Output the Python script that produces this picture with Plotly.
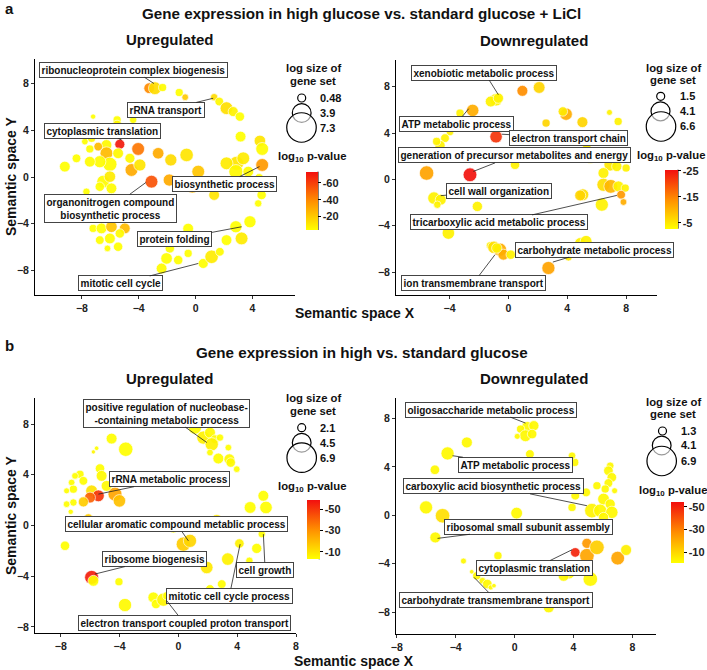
import plotly.graph_objects as go

W, H = 707, 670
FONT = "Liberation Sans, Arial, Helvetica, sans-serif"

# ------------------------------------------------------------------ data
# Panel a, upregulated
A_UP_X = [-3.26, -2.86, -2.32, -1.15, -0.73, 1.31, 1.67, 2.18, 2.65, 3.12,
          3.17, 4.53, 4.69, 4.69, 2.89, 2.18, 3.36, 2.84, 3.71, 4.48,
          4.53, 4.65, 4.41, 1.24, 0.19, -0.23, -0.63, 1.31, -1.85, -1.74,
          -2.63, -4.04, -5.33, -6.27, -6.85, -7.32, -7.21, -5.52, -5.52, -4.39,
          -7.79, -7.44, -6.27, -5.45, -4.62, -4.51, -3.92, -6.03, -6.74, -7.44,
          -8.38, -9.2, -3.1, -6.5, -6.03, -5.92, -6.74, -7.68, -7.79, -7.21,
          -6.62, -5.92, -4.98, -6.03, -5.33, -6.74, -6.2, -5.45, -1.57, -1.81,
          -2.04, -1.22, -0.52, 0.54, 1.13, 1.71, 2.18, 3.24, 2.84, 3.83,
          -2.39, -0.52]
A_UP_Y = [7.6, 7.6, 7.66, 7.23, 6.83, 6.83, 6.46, 5.89, 5.6, 5.17,
          3.46, 3.09, 2.4, 1.03, 1.17, 1.17, 1.6, 0.46, 0.46, -0.11,
          -0.83, -1.54, -2.26, -0.69, 0.46, -0.83, 1.89, -1.54, -0.26, 1.46,
          2.03, 2.4, 2.8, 2.74, 2.6, 3.31, 5.17, 4.89, 4.46, 4.89,
          3.03, 2.4, 2.03, 2.03, 1.6, 0.6, 1.03, 1.09, 1.31, 1.31,
          1.6, 0.89, -0.4, -0.4, 0.03, -0.97, -0.83, -1.26, -2.4, -4.4,
          -4.4, -4.26, -4.4, -5.26, -4.83, -5.4, -6.11, -5.97, -4.97, -6.11,
          -6.97, -7.11, -6.54, -7.4, -6.83, -6.4, -5.4, -5.26, -4.26, -3.83,
          -7.83, -4.42]
A_UP_SIZE = [4.25, 5.5, 2.6, 2.6, 1.75, 2.2, 3.0, 5.5, 3.8, 3.4,
             4.25, 4.7, 5.5, 5.5, 6.3, 5.5, 5.5, 6.3, 4.25, 3.4,
             4.25, 3.4, 2.2, 5.1, 5.5, 5.5, 5.9, 4.25, 5.1, 5.1,
             4.7, 5.5, 3.8, 4.25, 3.0, 2.6, 0.9, 2.6, 3.4, 2.2,
             1.75, 2.6, 5.5, 4.25, 3.8, 5.5, 5.1, 6.3, 5.1, 4.25,
             3.0, 4.25, 5.5, 5.5, 4.7, 4.25, 3.4, 2.2, 1.75, 2.6,
             4.25, 4.7, 4.25, 4.25, 3.4, 3.0, 1.75, 3.4, 2.6, 3.4,
             4.7, 3.4, 2.6, 3.8, 5.9, 3.0, 4.25, 5.5, 5.1, 5.1,
             4.25, 4.25]
A_UP_LOGP = [-40, -15, -5, -4, -20, -15, -6, -14, -8, -4,
             -4, -12, -5, -35, -12, -10, -10, -6, -5, -4,
             -4, -4, -4, -10, -22, -25, -12, -12, -30, -15,
             -30, -45, -70, -6, -25, -5, -4, -4, -6, -4,
             -4, -4, -25, -6, -6, -30, -12, -5, -5, -5,
             -4, -4, -55, -5, -10, -5, -4, -4, -4, -4,
             -4, -22, -25, -4, -5, -4, -4, -4, -4, -4,
             -4, -4, -4, -4, -10, -5, -4, -10, -4, -4,
             -5, -4]
A_UP_LABELS = ["ribonucleoprotein complex biogenesis", "rRNA transport",
               "cytoplasmic translation",
               "organonitrogen compound<br>biosynthetic process",
               "biosynthetic process", "protein folding", "mitotic cell cycle"]
A_UP_LABEL_X = [-4.39, -2.09, -6.55, -5.99, 2.07, -1.46, -5.28]
A_UP_LABEL_Y = [9.17, 5.74, 3.94, -2.69, -0.6, -5.34, -9.11]
A_UP_POINT_X = [-2.93, 1.24, -5.21, -3.48, 4.5, 3.24, 0.19]
A_UP_POINT_Y = [8.0, 6.74, 3.17, -0.46, 0.89, -4.26, -7.4]
A_UP_LEGEND = [0.48, 3.9, 7.3]
A_UP_CB_TICKS = [-60, -40, -20]
A_UP_CB_RANGE = [-73.4, -4.2]

# Panel a, downregulated
A_DN_X = [-0.84, -1.2, -0.68, 0.95, 2.09, -2.43, -3.29, 3.92, 3.7, 2.56,
          5.03, 6.87, 7.46, -0.84, -3.97, -4.31, -4.65, -4.88, 3.06, 5.33,
          5.56, -5.56, -2.61, 0.45, 6.92, 7.37, 8.0, 6.46, 6.96, 6.46,
          6.96, 7.48, 7.94, 7.66, 7.82, 5.06, 4.88, 6.35, 0.98, -5.06,
          -4.6, -4.83, -2.11, -4.08, -1.25, -0.98, -0.57, -0.34, 0.16, -0.79,
          4.88, 5.28, 4.08, 2.72]
A_DN_Y = [6.87, 6.72, 7.01, 7.64, 7.93, 5.95, 5.72, 5.63, 5.86, 4.86,
          4.94, 5.78, 5.0, 3.68, 4.08, 3.56, 2.93, 3.28, 3.71, 2.7,
          1.84, 0.55, 0.4, 1.26, 1.26, 1.12, 0.98, 0.55, 1.84, -0.46,
          -0.6, -0.6, -0.75, -1.32, -1.95, -1.32, -1.38, -2.18, -1.18, -1.61,
          -1.75, -2.18, -2.33, -4.63, -5.69, -5.86, -6.06, -6.49, -6.49, -5.92,
          -5.49, -5.34, -6.72, -7.64]
A_DN_SIZE = [5.1, 4.4, 4.1, 4.4, 4.8, 5.1, 3.1, 5.1, 3.7, 3.1,
             4.4, 2.1, 3.1, 5.1, 2.8, 3.4, 4.1, 3.1, 2.8, 3.4,
             4.4, 6.0, 5.7, 3.7, 5.1, 4.1, 3.1, 4.4, 3.1, 5.4,
             5.7, 4.4, 3.1, 3.4, 2.5, 4.8, 4.4, 5.4, 4.4, 5.1,
             4.4, 2.8, 4.1, 5.1, 2.8, 5.1, 5.4, 4.4, 3.7, 4.1,
             4.4, 4.8, 2.8, 5.4]
A_DN_LOGP = [-4, -4, -4, -14, -7, -11, -4, -11, -5, -7,
             -7, -4, -4, -22, -4, -4, -4, -4, -4, -4,
             -4, -12, -25, -4, -5, -4, -4, -4, -4, -6,
             -10, -4, -4, -13, -11, -6, -7, -4, -4, -4,
             -4, -4, -4, -4, -4, -6, -11, -11, -4, -4,
             -4, -4, -5, -12]
A_DN_LABELS = ["xenobiotic metabolic process", "ATP metabolic process",
               "electron transport chain",
               "generation of precursor metabolites and energy",
               "cell wall organization", "tricarboxylic acid metabolic process",
               "carbohydrate metabolic process", "ion transmembrane transport"]
A_DN_LABEL_X = [-1.63, -3.56, 4.08, 0.39, -0.63, -0.61, 5.83, -2.38]
A_DN_LABEL_Y = [9.22, 4.77, 3.56, 2.07, -0.98, -3.71, -6.06, -8.94]
A_DN_POINT_X = [-0.68, -2.7, -0.45, -2.38, -4.6, 7.37, 3.02, -0.91]
A_DN_POINT_Y = [7.3, 6.1, 3.9, 0.69, -1.4, -1.38, -7.13, -6.49]
A_DN_LEGEND = [1.5, 4.1, 6.6]
A_DN_CB_TICKS = [-25, -15, -5]
A_DN_CB_RANGE = [-25.4, -2.8]

# Panel b, upregulated
B_UP_X = [0.57, 1.13, 1.7, 2.15, 2.49, 2.27, 2.83, 3.4, 2.15, 2.72,
          3.47, 3.56, 3.97, -4.54, -3.58, -5.56, -5.78, -5.33, -5.22, -6.69,
          -7.03, -6.46, -7.26, -7.14, -7.6, -5.9, -5.44, -6.01, -4.88, -4.31,
          -4.01, -6.46, -7.14, -7.6, -7.32, -6.12, -7.71, -5.9, -5.78, -4.04,
          -3.63, -1.7, -1.52, -1.02, -0.79, -0.34, 0.34, 0.79, 1.81, 2.61,
          1.93, 3.36, 4.15, 2.95, 2.15, 4.88, 5.78, 5.96, 5.33, 5.67,
          4.83, 4.76, 0.68]
B_UP_Y = [8.11, 7.72, 6.93, 7.32, 6.8, 6.4, 6.93, 6.14, 5.75, 5.28,
          5.22, 4.96, 4.44, 6.85, 6.01, 6.09, 5.8, 4.49, 3.91, 4.04,
          3.91, 3.52, 3.39, 2.86, 2.73, 2.73, 2.34, 2.2, 3.12, 2.47,
          1.94, 1.86, 1.81, 1.68, 1.08, 0.55, -1.6, -4.09, -4.36, -4.44,
          -6.27, -5.67, -6.19, -5.85, -5.54, -0.16, -1.47, -1.21, 0.1, 0.37,
          -3.31, -2.65, -1.42, -4.62, -5.01, 1.42, 2.34, 1.42, -1.81, -0.68,
          -2.78, 0.24, -0.03]
B_UP_SIZE = [4.8, 5.8, 5.8, 4.8, 3.9, 5.8, 3.3, 3.0, 3.0, 4.8,
             4.8, 4.2, 3.0, 4.8, 6.3, 2.1, 1.95, 4.2, 4.8, 3.6,
             3.0, 3.9, 3.0, 3.6, 2.7, 5.2, 5.2, 4.8, 4.8, 6.1,
             5.5, 4.5, 3.3, 3.0, 2.4, 4.2, 4.2, 6.1, 4.8, 3.6,
             5.8, 4.8, 4.2, 5.8, 3.6, 4.8, 6.3, 5.8, 5.8, 5.5,
             5.5, 5.5, 4.2, 3.9, 3.9, 5.2, 4.8, 5.5, 4.5, 3.3,
             3.3, 3.9, 3.3]
B_UP_LOGP = [-3, -3, -6, -4, -4, -6, -3, -3, -3, -3,
             -4, -4, -3, -3, -3, -3, -5, -3, -4, -3,
             -3, -3, -3, -3, -3, -10, -50, -40, -4, -25,
             -18, -15, -3, -3, -3, -15, -3, -55, -3, -3,
             -4, -3, -3, -5, -3, -3, -15, -13, -4, -8,
             -8, -6, -6, -3, -3, -3, -3, -3, -3, -3,
             -3, -3, -3]
B_UP_LABELS = ["positive regulation of nucleobase-<br>-containing metabolic process",
               "rRNA metabolic process",
               "cellular aromatic compound metablic process",
               "ribosome biogenesis", "cell growth", "mitotic cell cycle process",
               "electron transport coupled proton transport"]
B_UP_LABEL_X = [-0.84, -0.57, -0.11, -1.59, 5.9, 3.47, 0.39]
B_UP_LABEL_Y = [8.85, 3.65, 0.1, -2.65, -3.49, -5.54, -7.69]
B_UP_POINT_X = [1.93, -5.44, 0.68, -5.67, 5.78, 4.2, -0.79]
B_UP_POINT_Y = [6.54, 2.47, -1.21, -3.83, -0.68, -1.47, -5.93]
B_UP_LEGEND = [2.1, 4.5, 6.9]
B_UP_CB_TICKS = [-50, -30, -10]
B_UP_CB_RANGE = [-58.5, -2.8]

# Panel b, downregulated
B_DN_X = [0.86, 1.31, 0.41, 0.74, 1.19, 0.18, -3.24, -4.55, -5.41, -3.04,
          1.04, 4.08, 3.9, 6.49, 6.37, 6.6, 6.37, 6.15, 6.79, 4.86,
          4.12, 6.04, 6.49, 5.25, 5.81, 6.6, 6.04, 3.9, 0.14, -6.01,
          -4.89, -5.38, 4.12, 4.91, 4.91, 5.59, 7.0, 7.57, 3.67, 3.33,
          5.14, -1.13, -3.47, -2.57, -2.18, -1.85, -1.62, -2.91, 2.32, -1.4,
          5.59]
B_DN_Y = [7.27, 7.41, 7.13, 6.58, 6.72, 6.53, 6.03, 5.12, 3.77, 2.78,
          5.07, 4.38, 4.93, 4.1, 3.69, 3.14, 2.67, 2.18, 2.04, 1.9,
          1.63, 1.35, 0.94, 0.39, 0.39, 0.25, -0.17, 0.66, 0.19, 0.66,
          -0.03, -1.82, -3.06, -2.31, -3.33, -2.64, -3.53, -2.86, -4.71, -4.99,
          -5.26, -3.33, -3.77, -4.99, -5.4, -5.67, -5.95, -4.66, -7.6, -5.81,
          2.45]
B_DN_SIZE = [4.9, 4.1, 3.1, 4.9, 3.8, 2.0, 4.5, 5.6, 3.8, 3.1,
             3.4, 3.1, 2.8, 2.8, 3.8, 3.8, 3.4, 3.1, 2.0, 3.4,
             3.4, 4.9, 4.1, 6.3, 5.6, 5.2, 4.1, 3.1, 4.9, 5.6,
             6.3, 4.5, 3.8, 4.1, 6.3, 6.3, 5.9, 4.5, 5.6, 4.5,
             6.3, 3.1, 2.0, 3.1, 2.4, 3.8, 1.6, 1.3, 4.5, 1.3,
             3.1]
B_DN_LOGP = [-2, -2, -2, -2, -2, -2, -2, -2, -2, -2,
             -2, -2, -2, -2, -2, -2, -2, -2, -2, -2,
             -2, -2, -2, -3, -2, -2, -2, -2, -2, -2,
             -8, -2, -50, -25, -22, -12, -22, -4, -2, -2,
             -2, -2, -2, -2, -2, -2, -2, -2, -2, -2,
             -2]
B_DN_LABELS = ["oligosaccharide metabolic process", "ATP metabolic process",
               "carboxylic acid biosynthetic process",
               "ribosomal small subunit assembly", "cytoplasmic translation",
               "carbohydrate transmembrane transport"]
B_DN_LABEL_X = [-1.58, 0.07, -1.4, 0.97, 1.37, -1.28]
B_DN_LABEL_Y = [8.73, 4.19, 2.4, -0.94, -4.35, -6.97]
B_DN_POINT_X = [0.74, -4.21, 4.91, -5.23, 3.9, -2.75]
B_DN_POINT_Y = [7.63, 4.93, 0.8, -1.9, -2.84, -5.12]
B_DN_LEGEND = [1.3, 4.1, 6.9]
B_DN_CB_TICKS = [-50, -30, -10]
B_DN_CB_RANGE = [-54.4, -0.5]

# ------------------------------------------------------------------ layout config (pixels)
PANELS = [
    dict(x=A_UP_X, y=A_UP_Y, s=A_UP_SIZE, p=A_UP_LOGP,
         lab=A_UP_LABELS, lx=A_UP_LABEL_X, ly=A_UP_LABEL_Y, qx=A_UP_POINT_X, qy=A_UP_POINT_Y,
         leg=A_UP_LEGEND, cbt=A_UP_CB_TICKS, cbr=A_UP_CB_RANGE,
         box=(35, 295, 59, 295), xr=(-11.3, 7.0), yr=(-10.1, 10.1),
         xt=[-8, -4, 0, 4], yt=[-8, -4, 0, 4, 8],
         cb=(306, 171.7, 12, 58.3), cbtitle=(312, 157), legtitle=(313, 68),
         legc=[(301.7, 98), (301.7, 113), (301.5, 127.5)], legx=318),
    dict(x=A_DN_X, y=A_DN_Y, s=A_DN_SIZE, p=A_DN_LOGP,
         lab=A_DN_LABELS, lx=A_DN_LABEL_X, ly=A_DN_LABEL_Y, qx=A_DN_POINT_X, qy=A_DN_POINT_Y,
         leg=A_DN_LEGEND, cbt=A_DN_CB_TICKS, cbr=A_DN_CB_RANGE,
         box=(396, 657, 60, 295), xr=(-7.64, 10.1), yr=(-9.97, 10.3),
         xt=[-4, 0, 4, 8], yt=[-8, -4, 0, 4, 8],
         cb=(665, 169.7, 13, 59), cbtitle=(671, 156), legtitle=(673, 67.5),
         legc=[(660.7, 96.3), (660.5, 111.3), (661, 126.5)], legx=678),
    dict(x=B_UP_X, y=B_UP_Y, s=B_UP_SIZE, p=B_UP_LOGP,
         lab=B_UP_LABELS, lx=B_UP_LABEL_X, ly=B_UP_LABEL_Y, qx=B_UP_POINT_X, qy=B_UP_POINT_Y,
         leg=B_UP_LEGEND, cbt=B_UP_CB_TICKS, cbr=B_UP_CB_RANGE,
         box=(35, 296, 398, 633.3), xr=(-9.75, 8.0), yr=(-8.5, 10.05),
         xt=[-8, -4, 0, 4, 8], yt=[-8, -4, 0, 4, 8],
         cb=(306.7, 500.3, 12.5, 59), cbtitle=(312, 487), legtitle=(313, 398.5),
         legc=[(301.7, 427.7), (301.7, 442.7), (301.7, 457.7)], legx=318),
    dict(x=B_DN_X, y=B_DN_Y, s=B_DN_SIZE, p=B_DN_LOGP,
         lab=B_DN_LABELS, lx=B_DN_LABEL_X, ly=B_DN_LABEL_Y, qx=B_DN_POINT_X, qy=B_DN_POINT_Y,
         leg=B_DN_LEGEND, cbt=B_DN_CB_TICKS, cbr=B_DN_CB_RANGE,
         box=(396, 656, 398, 634), xr=(-8.05, 9.6), yr=(-9.8, 9.7),
         xt=[-8, -4, 0, 4, 8], yt=[-8, -4, 0, 4, 8],
         cb=(670.7, 502, 12.5, 60.7), cbtitle=(673, 491), legtitle=(673, 401.5),
         legc=[(662.5, 431), (661.7, 445.5), (661.7, 461)], legx=679),
]

for P in PANELS:
    n = len(P["x"])
    if not (len(P["y"]) == len(P["s"]) == len(P["p"]) == n):
        raise ValueError("length mismatch %d %d %d %d" % (n, len(P["y"]), len(P["s"]), len(P["p"])))

COLORSCALE = [[0, "#FFFF00"], [0.5, "#FF8E00"], [1, "#F20F0F"]]
D_MIN, D_MAX = 4.6, 15.8      # plotted bubble diameters (px) at legend min / max
LEG_MIN, LEG_MAX = 8.0, 29.5  # legend key diameters (px)


def px2fx(p):
    return p / W


def px2fy(p):
    return 1 - p / H


fig = go.Figure()
annotations = []
shapes = []
layout_axes = {}

for i, P in enumerate(PANELS, start=1):
    xa = "x" if i == 1 else "x%d" % i
    ya = "y" if i == 1 else "y%d" % i
    xkey = "xaxis" if i == 1 else "xaxis%d" % i
    ykey = "yaxis" if i == 1 else "yaxis%d" % i
    smin, smax = min(P["leg"]), max(P["leg"])

    def frac(s, smin=smin, smax=smax):
        return (s - smin) / (smax - smin)

    cbx, cby, cbw, cbh = P["cb"]
    lo, hi = -P["cbr"][1], -P["cbr"][0]
    fig.add_trace(go.Scatter(
        x=P["x"], y=P["y"], xaxis=xa, yaxis=ya, mode="markers", hoverinfo="skip",
        showlegend=False,
        marker=dict(
            size=[D_MIN + frac(s) * (D_MAX - D_MIN) for s in P["s"]], sizemode="diameter",
            color=[-v for v in P["p"]], cmin=lo, cmax=hi, colorscale=COLORSCALE,
            opacity=0.92, line=dict(color="white", width=0.7),
            showscale=True,
            colorbar=dict(
                x=px2fx(cbx), xanchor="left", y=px2fy(cby), yanchor="top",
                len=cbh, lenmode="pixels", thickness=cbw, thicknessmode="pixels",
                xpad=0, ypad=0, outlinewidth=0,
                ticks="outside", ticklen=3, tickwidth=1, tickcolor="black",
                tickvals=[-t for t in P["cbt"]],
                ticktext=["-%d" % abs(t) for t in P["cbt"]],
                tickfont=dict(family=FONT, size=11, color="#222", weight="bold"),
            ),
        ),
    ))
    # right edge line of the colour bar
    shapes.append(dict(type="line", xref="paper", yref="paper",
                       x0=px2fx(cbx + cbw), x1=px2fx(cbx + cbw),
                       y0=px2fy(cby), y1=px2fy(cby + cbh),
                       line=dict(color="black", width=1)))

    x0, x1, y0, y1 = P["box"]
    axis_common = dict(showgrid=False, zeroline=False, showline=True, linecolor="black",
                       linewidth=1, ticks="outside", ticklen=3, tickwidth=1,
                       tickcolor="#333", mirror=False,
                       tickfont=dict(family=FONT, size=10.5, color="#222", weight="bold"))
    layout_axes[xkey] = dict(axis_common, domain=[px2fx(x0), px2fx(x1)], range=list(P["xr"]),
                             tickvals=P["xt"], anchor=ya)
    layout_axes[ykey] = dict(axis_common, domain=[px2fy(y1), px2fy(y0)], range=list(P["yr"]),
                             tickvals=P["yt"], anchor=xa)

    # labelled terms
    for t, lx, ly, qx, qy in zip(P["lab"], P["lx"], P["ly"], P["qx"], P["qy"]):
        annotations.append(dict(
            xref=xa, yref=ya, axref=xa, ayref=ya, x=qx, y=qy, ax=lx, ay=ly,
            text="<b>%s</b>" % t, showarrow=True, arrowhead=0, arrowwidth=0.8,
            arrowcolor="#222", standoff=0, startstandoff=0,
            font=dict(family=FONT, size=10, color="#111"),
            bgcolor="white", bordercolor="#444", borderwidth=1, borderpad=1.5,
            align="center"))

    # size legend
    tx, ty = P["legtitle"]
    annotations.append(dict(xref="paper", yref="paper", x=px2fx(tx), y=px2fy(ty),
                            xanchor="center", yanchor="middle", showarrow=False,
                            text="<b>log size of</b>",
                            font=dict(family=FONT, size=11.3, color="#111")))
    annotations.append(dict(xref="paper", yref="paper", x=px2fx(tx), y=px2fy(ty + 12.7),
                            xanchor="center", yanchor="middle", showarrow=False,
                            text="<b>gene set</b>",
                            font=dict(family=FONT, size=11.3, color="#111")))
    for v, (cx, cy) in zip(P["leg"], P["legc"]):
        r = (LEG_MIN + frac(v) * (LEG_MAX - LEG_MIN)) / 2
        shapes.append(dict(type="circle", xref="paper", yref="paper",
                           xsizemode="pixel", ysizemode="pixel",
                           xanchor=px2fx(cx), yanchor=px2fy(cy),
                           x0=-r, x1=r, y0=-r, y1=r,
                           line=dict(color="black", width=1.2),
                           fillcolor="rgba(255,255,255,0.6)"))
        annotations.append(dict(xref="paper", yref="paper", x=px2fx(P["legx"]), y=px2fy(cy),
                                xanchor="left", yanchor="middle", showarrow=False,
                                text="<b>%s</b>" % v,
                                font=dict(family=FONT, size=11, color="#111")))
    # colour bar title
    ctx, cty = P["cbtitle"]
    annotations.append(dict(xref="paper", yref="paper", x=px2fx(ctx), y=px2fy(cty),
                            xanchor="center", yanchor="middle", showarrow=False,
                            text="<b>log<sub>10</sub> p-value</b>",
                            font=dict(family=FONT, size=11.3, color="#111")))

# titles and axis titles
TEXTS = [
    ("a", 3, 9, 15, "left", 0),
    ("Gene expression in high glucose vs. standard glucose + LiCl", 361, 13, 15.2, "center", 0),
    ("Upregulated", 169.5, 40, 15, "center", 0),
    ("Downregulated", 534, 40.5, 15, "center", 0),
    ("Semantic space Y", 11, 177, 14, "center", -90),
    ("Semantic space X", 355, 313, 14, "center", 0),
    ("b", 3, 345, 15, "left", 0),
    ("Gene expression in high vs. standard glucose", 362, 352.5, 15.2, "center", 0),
    ("Upregulated", 169.5, 378, 15, "center", 0),
    ("Downregulated", 534, 378, 15, "center", 0),
    ("Semantic space Y", 11, 516, 14, "center", -90),
    ("Semantic space X", 354, 661, 14, "center", 0),
]
for t, x, y, sz, anc, rot in TEXTS:
    annotations.append(dict(xref="paper", yref="paper", x=px2fx(x), y=px2fy(y),
                            xanchor=anc, yanchor="middle", showarrow=False, textangle=rot,
                            text="<b>%s</b>" % t,
                            font=dict(family=FONT, size=sz, color="#111")))

fig.update_layout(
    width=W, height=H, margin=dict(l=0, r=0, t=0, b=0, autoexpand=False),
    paper_bgcolor="white", plot_bgcolor="white",
    annotations=annotations, shapes=shapes, showlegend=False,
    font=dict(family=FONT),
    **layout_axes,
)

fig.write_html("out.html",
               config={"displayModeBar": False},
               post_script="document.body.style.margin='0px';"
                           "document.body.style.overflow='hidden';")
